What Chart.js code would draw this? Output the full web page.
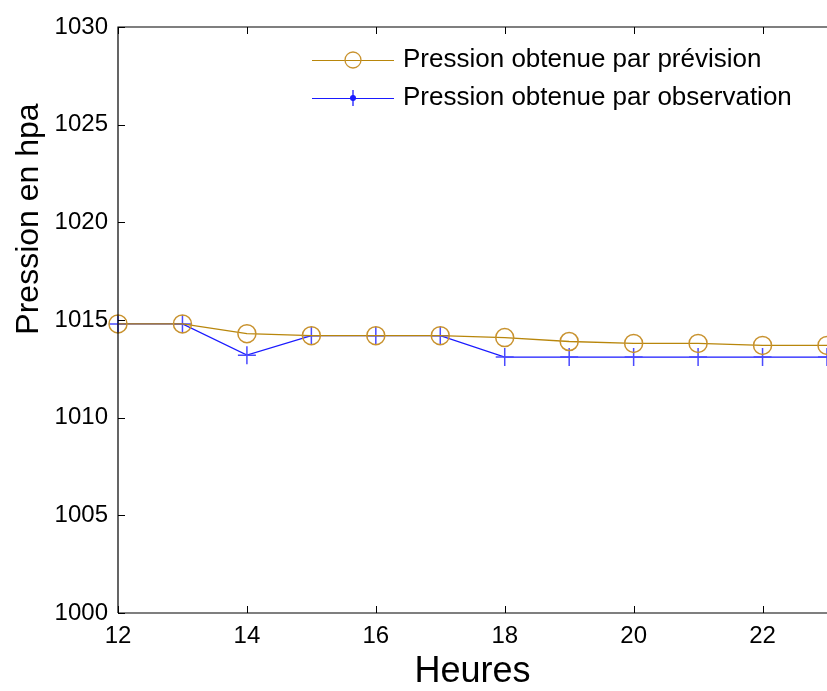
<!DOCTYPE html>
<html>
<head>
<meta charset="utf-8">
<script src="https://cdn.jsdelivr.net/npm/chart.js@4"></script>
<style>
html,body{margin:0;padding:0;background:#fff;}
#wrap{width:827px;height:691px;position:relative;}
</style>
</head>
<body>
<div id="wrap"><canvas id="c" width="827" height="691"></canvas></div>
<script>
const hours = [12, 13, 14, 15, 16, 17, 18, 19, 20, 21, 22, 23];
const prevision = [1014.8, 1014.8, 1014.3, 1014.2, 1014.2, 1014.2, 1014.1, 1013.9, 1013.8, 1013.8, 1013.7, 1013.7];
const observation = [1014.8, 1014.8, 1013.2, 1014.2, 1014.2, 1014.2, 1013.1, 1013.1, 1013.1, 1013.1, 1013.1, 1013.1];
const xTickValues = [12, 14, 16, 18, 20, 22];
const yTickValues = [1000, 1005, 1010, 1015, 1020, 1025, 1030];
const labelPrevision = 'Pression obtenue par prévision';
const labelObservation = 'Pression obtenue par observation';
const xTitle = 'Heures';
const yTitle = 'Pression en hpa';

const FONT = '"Liberation Sans", Arial, sans-serif';
const prevColor = '#B8860B';
const prevMarker = '#C8922E';
const obsColor = '#1A1AFF';
const obsMarker = '#4A4AFF';

const axesPlugin = {
  id: 'axesBox',
  afterDatasetsDraw(chart) {
    const ctx = chart.ctx, a = chart.chartArea;
    const xs = chart.scales.x, ys = chart.scales.y;
    ctx.save();
    ctx.strokeStyle = '#000';
    ctx.lineWidth = 1.2;
    ctx.beginPath();
    ctx.moveTo(a.left, a.bottom); ctx.lineTo(a.left, a.top); ctx.lineTo(a.right, a.top);
    ctx.moveTo(a.left, a.bottom); ctx.lineTo(a.right, a.bottom);
    ctx.stroke();
    ctx.lineWidth = 1;
    ctx.beginPath();
    const tl = 7;
    xs.ticks.forEach(t => {
      const px = Math.round(xs.getPixelForValue(t.value)) + 0.5;
      ctx.moveTo(px, a.bottom); ctx.lineTo(px, a.bottom - tl);
      ctx.moveTo(px, a.top); ctx.lineTo(px, a.top + tl);
    });
    ys.ticks.forEach(t => {
      const py = Math.round(ys.getPixelForValue(t.value)) + 0.5;
      ctx.moveTo(a.left, py); ctx.lineTo(a.left + tl, py);
    });
    ctx.stroke();
    // y-axis title (drawn off-centre, as in the reference)
    ctx.fillStyle = '#000';
    ctx.font = '32px ' + FONT;
    ctx.textAlign = 'center';
    ctx.textBaseline = 'middle';
    ctx.translate(29, 219);
    ctx.rotate(-Math.PI / 2);
    ctx.fillText(yTitle, 0, 0);
    ctx.restore();
  }
};

const legendPlugin = {
  id: 'customLegend',
  afterDraw(chart) {
    const ctx = chart.ctx;
    const rows = [
      {ds: chart.data.datasets[0], y: 60, kind: 'circle'},
      {ds: chart.data.datasets[1], y: 98, kind: 'cross'}
    ];
    ctx.save();
    rows.forEach(r => {
      ctx.strokeStyle = r.ds.borderColor;
      ctx.lineWidth = 1;
      ctx.beginPath();
      ctx.moveTo(312, r.y + 0.5); ctx.lineTo(394, r.y + 0.5);
      ctx.stroke();
      if (r.kind === 'circle') {
        ctx.strokeStyle = r.ds.pointBorderColor;
        ctx.lineWidth = 1.3;
        ctx.beginPath(); ctx.arc(353, r.y, 8, 0, Math.PI * 2); ctx.stroke();
      } else {
        ctx.strokeStyle = r.ds.borderColor;
        ctx.lineWidth = 1.3;
        ctx.beginPath(); ctx.moveTo(353, r.y - 8); ctx.lineTo(353, r.y + 8); ctx.stroke();
        ctx.fillStyle = r.ds.borderColor;
        ctx.beginPath(); ctx.arc(353, r.y, 3, 0, Math.PI * 2); ctx.fill();
      }
      ctx.fillStyle = '#000';
      ctx.font = '26px ' + FONT;
      ctx.textBaseline = 'middle';
      ctx.textAlign = 'left';
      ctx.fillText(r.ds.label, 403, r.y);
    });
    ctx.restore();
  }
};

new Chart(document.getElementById('c'), {
  type: 'line',
  data: {
    labels: hours,
    datasets: [
      {
        label: labelPrevision,
        data: hours.map((h, i) => ({x: h, y: prevision[i]})),
        borderColor: prevColor,
        borderWidth: 1.3,
        pointStyle: 'circle',
        pointRadius: 9,
        pointBorderColor: prevMarker,
        pointBackgroundColor: 'rgba(0,0,0,0)',
        pointBorderWidth: 1.5,
        fill: false,
        tension: 0,
        clip: false
      },
      {
        label: labelObservation,
        data: hours.map((h, i) => ({x: h, y: observation[i]})),
        borderColor: obsColor,
        borderWidth: 1.2,
        pointStyle: 'cross',
        pointRadius: 9,
        pointBorderColor: obsMarker,
        pointBackgroundColor: obsMarker,
        pointBorderWidth: 1.5,
        fill: false,
        tension: 0,
        clip: false
      }
    ]
  },
  options: {
    responsive: false,
    animation: false,
    events: [],
    layout: {autoPadding: false, padding: {top: 27, right: 0, left: 0, bottom: 0}},
    plugins: {legend: {display: false}, tooltip: {enabled: false}},
    scales: {
      x: {
        type: 'linear',
        min: 12, max: 23,
        afterBuildTicks: s => { s.ticks = xTickValues.map(v => ({value: v})); },
        afterFit: s => { s.height = 78; s.paddingLeft = 0; s.paddingRight = 0; },
        grid: {display: false, drawTicks: false},
        border: {display: false},
        ticks: {color: '#000', font: {family: FONT, size: 24}, padding: 9, maxRotation: 0, autoSkip: false,
                callback: v => String(v)},
        title: {display: true, text: xTitle, color: '#000', font: {family: FONT, size: 36, lineHeight: 1}, padding: {top: 0, bottom: 1}}
      },
      y: {
        type: 'linear',
        min: 1000, max: 1030,
        afterBuildTicks: s => { s.ticks = yTickValues.map(v => ({value: v})); },
        afterFit: s => { s.width = 118; s.paddingTop = 0; s.paddingBottom = 0; },
        grid: {display: false, drawTicks: false},
        border: {display: false},
        ticks: {color: '#000', font: {family: FONT, size: 24}, padding: 10, autoSkip: false,
                callback: v => String(v)},
        title: {display: false}
      }
    }
  },
  plugins: [axesPlugin, legendPlugin]
});
</script>
</body>
</html>
